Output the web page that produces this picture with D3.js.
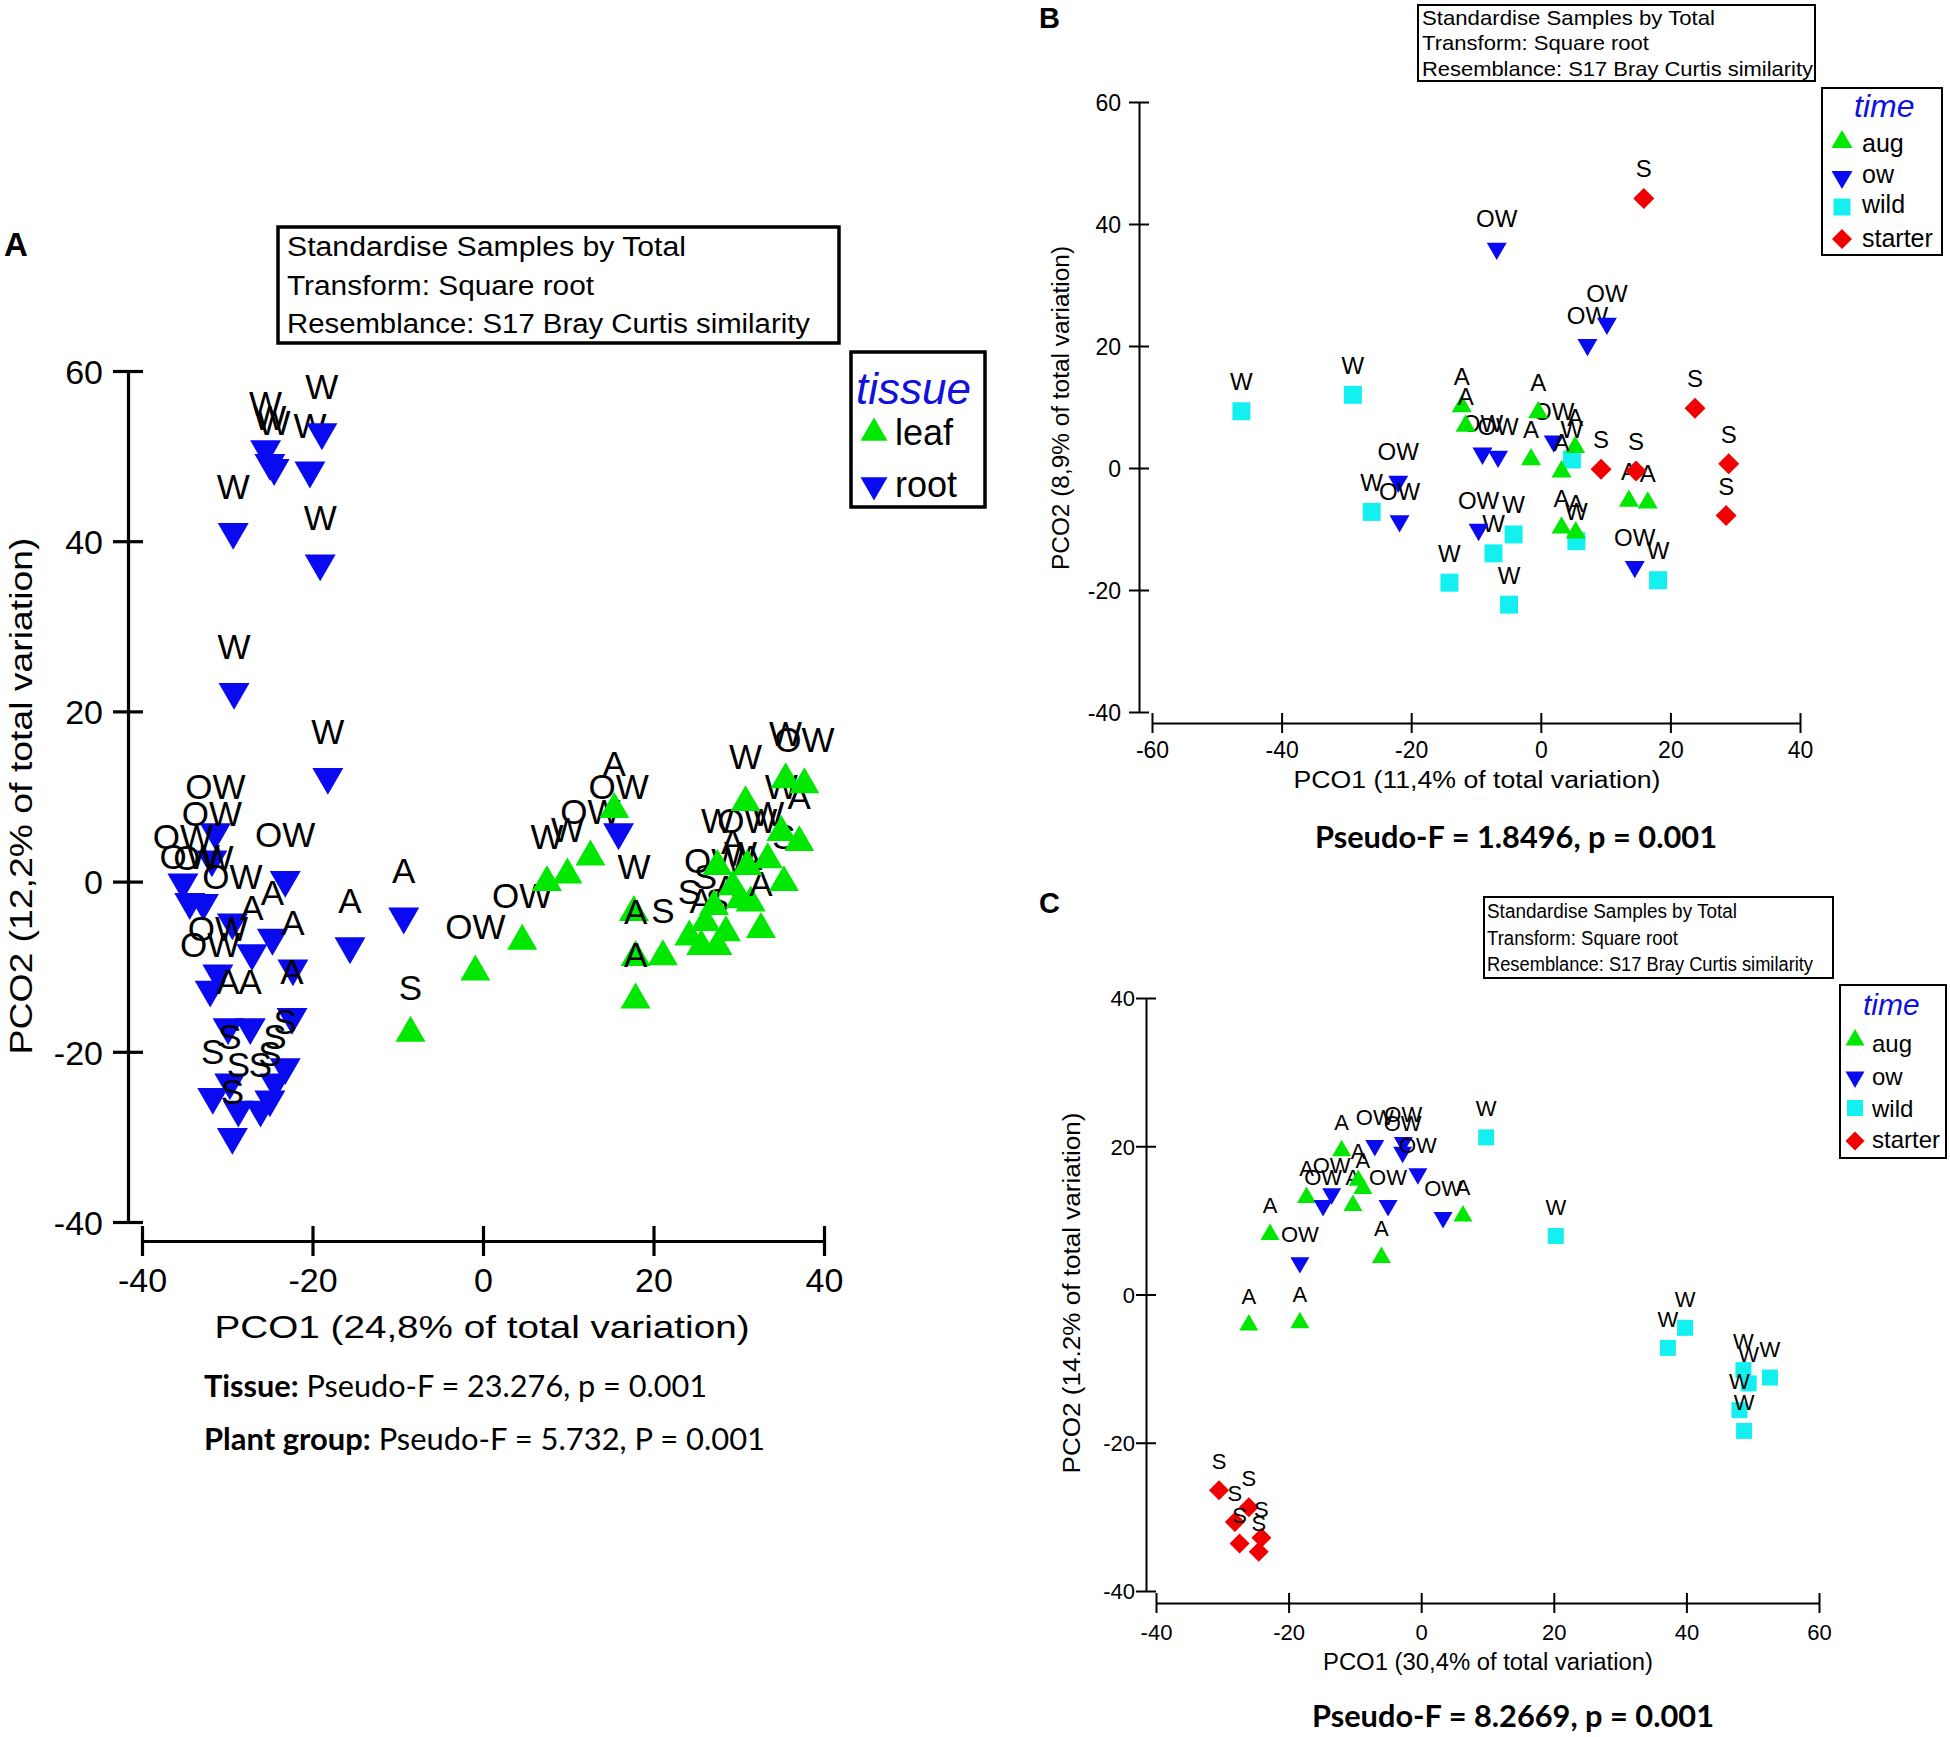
<!DOCTYPE html>
<html lang="en">
<head>
<meta charset="UTF-8">
<title>PCO ordinations</title>
<script src="https://cdn.jsdelivr.net/npm/d3@7"></script>
<style>
  body { margin: 0; background: #fff; }
  text { font-family: "Liberation Sans", Arial, sans-serif; fill: #000; }
  .calib { font-family: Lato, "Open Sans", sans-serif; }
</style>
</head>
<body>
<div id="chart"></div>
<script>
// ---- panel A: tissue (PCO1 vs PCO2), [pco1, pco2, sample label]
var leafA = [
  [-0.9,-10.6,"OW"],[-8.5,-17.8,"S"],[4.6,-7.0,"OW"],[7.5,-0.1,"W"],[9.9,0.8,"W"],
  [12.6,2.9,"OW"],[15.4,8.5,"A"],[17.7,-3.6,"W"],[17.9,-8.9,"A"],[17.9,-13.9,"A"],
  [21.1,-8.8,"S"],[24.2,-6.5,"S"],[25.6,-7.6,"A"],[26.1,-4.8,"S"],[27.5,-7.6,"S"],
  [28.5,-6.0,"A"],[27.1,-2.9,"OW"],[27.5,1.8,"W"],[29.3,-0.6,"A"],[30.2,-2.1,"W"],
  [31.4,-2.5,"A"],[32.6,-5.6,"A"],[31.0,1.8,"OW"],[33.4,2.6,"W"],[35.3,-0.1,"S"],
  [35.0,5.8,"W"],[37.1,4.6,"A"],[30.8,9.3,"W"],[35.5,12.0,"W"],[37.7,11.4,"OW"]
];
var rootA = [
  [-29.3,41.1,"W"],[-19.1,37.4,"W"],[-20.3,48.3,"W"],[-18.9,52.8,"W"],[-25.5,50.8,"W"],
  [-25.0,49.2,"W"],[-24.5,48.6,"W"],[-29.2,22.3,"W"],[-18.2,12.3,"W"],[-31.4,5.8,"OW"],
  [-31.8,2.6,"OW"],[-35.2,-0.1,"OW"],[-34.4,-2.4,"OW"],[-32.8,-2.5,"OW"],[-23.2,0.2,"OW"],
  [-29.4,-4.8,"OW"],[-24.7,-6.6,"A"],[-27.1,-8.4,"A"],[-22.3,-10.2,"A"],[-31.1,-10.8,"OW"],
  [-32.0,-12.7,"OW"],[-22.4,-15.9,"A"],[-29.9,-17.1,"A"],[-27.3,-17.1,"A"],[-23.2,-21.8,"S"],
  [-29.7,-23.6,"S"],[-31.7,-25.3,"S"],[-24.4,-23.6,"S"],[-25.0,-25.6,"S"],[-26.1,-26.8,"S"],
  [-28.7,-26.8,"S"],[-29.4,-30.0,"S"],[-9.3,-4.1,"A"],[-15.6,-7.6,"A"],[15.9,5.8,"OW"]
];
var xTicksA = [-40,-20,0,20,40];
var yTicksA = [-40,-20,0,20,40,60];

// ---- panel B: leaf, time
var augB = [
  [-12.2,10.1,"A"],[-11.6,6.9,"A"],[-0.4,9.1,"A"],[-1.5,1.4,"A"],[5.3,3.4,"A"],
  [3.2,-0.6,"A"],[13.6,-5.4,"A"],[16.5,-5.7,"A"],[3.2,-9.8,"A"],[5.4,-10.6,"A"]
];
var owB = [
  [-6.8,36.0,"OW"],[7.2,20.2,"OW"],[10.2,23.7,"OW"],[-9.0,2.4,"OW"],[-6.6,1.9,"OW"],
  [2.0,4.4,"OW"],[-22.0,-2.2,"OW"],[-21.8,-8.7,"OW"],[-9.6,-10.1,"OW"],[14.5,-16.2,"OW"]
];
var wildB = [
  [-46.2,9.3,"W"],[-29.0,12.0,"W"],[4.8,1.4,"W"],[-26.1,-7.2,"W"],[-4.2,-10.9,"W"],
  [-7.3,-14.0,"W"],[5.5,-12.0,"W"],[-14.1,-18.8,"W"],[-4.9,-22.4,"W"],[18.1,-18.4,"W"]
];
var starterB = [
  [15.9,44.2,"S"],[23.8,9.8,"S"],[9.3,-0.2,"S"],[14.7,-0.5,"S"],[29.0,0.7,"S"],[28.6,-7.8,"S"]
];
var xTicksB = [-60,-40,-20,0,20,40];
var yTicksB = [-40,-20,0,20,40,60];

// ---- panel C: root, time
var augC = [
  [-22.8,8.1,"A"],[-17.3,13.1,"A"],[-12.0,19.4,"A"],[-10.3,12.0,"A"],[-9.5,15.4,"A"],
  [-8.8,14.3,"A"],[-6.0,5.0,"A"],[6.3,10.6,"A"],[-26.0,-4.1,"A"],[-18.3,-3.8,"A"]
];
var owC = [
  [-18.3,4.3,"OW"],[-14.8,12.0,"OW"],[-13.5,13.6,"OW"],[-7.0,20.1,"OW"],[-5.0,12.0,"OW"],
  [-2.7,20.5,"OW"],[-2.8,19.2,"OW"],[-0.5,16.3,"OW"],[3.3,10.4,"OW"]
];
var wildC = [
  [9.8,21.2,"W"],[20.3,7.9,"W"],[39.8,-4.5,"W"],[37.2,-7.2,"W"],[48.6,-10.2,"W"],
  [49.4,-12.0,"W"],[52.6,-11.2,"W"],[48.0,-15.6,"W"],[48.7,-18.4,"W"]
];
var starterC = [
  [-30.5,-26.4,"S"],[-26.0,-28.7,"S"],[-28.1,-30.7,"S"],[-27.4,-33.6,"S"],[-24.1,-32.8,"S"],[-24.5,-34.7,"S"]
];
var xTicksC = [-40,-20,0,20,40,60];
var yTicksC = [-40,-20,0,20,40];

var infoLines = ["Standardise Samples by Total", "Transform: Square root", "Resemblance: S17 Bray Curtis similarity"];
var timeLegend = ["aug", "ow", "wild", "starter"];

var GREEN = "#00e800", BLUE = "#0a0af0", CYAN = "#14f0f0", RED = "#f00000";

var svg = d3.select("#chart").append("svg")
    .attr("width", 1950)
    .attr("height", 1737);

function shapePath(shape, s) {
    if (shape == "up" || shape == "down") return d3.symbol(d3.symbolTriangle, 0.433 * s * s)();
    if (shape == "square") return d3.symbol(d3.symbolSquare, s * s)();
    return d3.symbol(d3.symbolSquare, s * s / 2)();   // diamond, s = diagonal
}
function shapeRot(shape) {
    if (shape == "down") return "rotate(180)";
    if (shape == "diamond") return "rotate(45)";
    return null;
}

function drawPanel(o) {
    var x = d3.scaleLinear().domain(o.xDomain).range(o.xRange);
    var y = d3.scaleLinear().domain(o.yDomain).range(o.yRange);
    var g = svg.append("g");

    var gx = g.append("g")
        .attr("transform", "translate(0," + o.xAxisAt + ")")
        .call(d3.axisBottom(x).tickValues(o.xTicks).tickSizeOuter(0).tickFormat(function(d){ return String(d); }));
    gx.attr("font-size", o.tickFont).attr("font-family", null);
    gx.select(".domain").attr("stroke-width", o.sw);
    gx.selectAll(".tick line").attr("y1", -o.tickLen).attr("y2", o.tickLen).attr("stroke-width", o.sw);
    gx.selectAll(".tick text").attr("y", o.xLabelOff).attr("dy", null);

    var gy = g.append("g")
        .attr("transform", "translate(" + o.yAxisAt + ",0)")
        .call(d3.axisLeft(y).tickValues(o.yTicks).tickSizeOuter(0).tickFormat(function(d){ return String(d); }));
    gy.attr("font-size", o.tickFont).attr("font-family", null);
    gy.select(".domain").attr("stroke-width", o.sw);
    gy.selectAll(".tick line").attr("x1", -o.tickLen).attr("x2", o.tickLen).attr("stroke-width", o.sw);
    gy.selectAll(".tick text").attr("x", -o.yLabelOff).attr("dy", "0.36em");

    // axis titles
    g.append("text")
        .attr("x", o.xTitle[0]).attr("y", o.xTitle[1])
        .attr("text-anchor", "middle").attr("font-size", o.titleFont)
        .attr("textLength", o.xTitle[2]).attr("lengthAdjust", "spacingAndGlyphs")
        .text(o.xTitleText);
    g.append("text")
        .attr("transform", "translate(" + o.yTitle[0] + "," + o.yTitle[1] + ") rotate(-90)")
        .attr("text-anchor", "middle").attr("font-size", o.titleFont)
        .attr("textLength", o.yTitle[2]).attr("lengthAdjust", "spacingAndGlyphs")
        .text(o.yTitleText);

    // sample groups, marker then label for every point
    o.groups.forEach(function(grp) {
        var pts = g.append("g").selectAll("g").data(grp.data).join("g")
            .attr("transform", function(d){ return "translate(" + x(d[0]) + "," + y(d[1]) + ")"; });
        pts.append("path")
            .attr("d", shapePath(grp.shape, grp.size))
            .attr("transform", shapeRot(grp.shape))
            .attr("fill", grp.color);
        pts.append("text")
            .attr("y", -o.labelOff)
            .attr("text-anchor", "middle")
            .attr("font-size", o.labelFont)
            .text(function(d){ return d[2]; });
    });
}

function infoBox(b) {
    svg.append("rect")
        .attr("x", b.x).attr("y", b.y).attr("width", b.w).attr("height", b.h)
        .attr("fill", "#fff").attr("stroke", "#000").attr("stroke-width", b.sw);
    infoLines.forEach(function(t, i) {
        svg.append("text")
            .attr("x", b.tx).attr("y", b.base[i])
            .attr("font-size", b.font)
            .attr("textLength", b.len[i]).attr("lengthAdjust", "spacingAndGlyphs")
            .text(t);
    });
}

function legend(l) {
    svg.append("rect")
        .attr("x", l.x).attr("y", l.y).attr("width", l.w).attr("height", l.h)
        .attr("fill", "#fff").attr("stroke", "#000").attr("stroke-width", l.sw);
    svg.append("text")
        .attr("x", l.titleX).attr("y", l.titleY)
        .attr("font-size", l.titleFont).attr("font-style", "italic")
        .style("fill", "#1010e0")
        .text(l.title);
    l.items.forEach(function(it, i) {
        svg.append("path")
            .attr("d", shapePath(it.shape, it.size))
            .attr("transform", "translate(" + l.mx + "," + l.my[i] + ")" + (shapeRot(it.shape) ? " " + shapeRot(it.shape) : ""))
            .attr("fill", it.color);
        svg.append("text")
            .attr("x", l.tx).attr("y", l.ty[i])
            .attr("font-size", l.font)
            .text(it.name);
    });
}

// ---------- panel A
drawPanel({
    xDomain: [-40, 40], xRange: [142, 824], xAxisAt: 1241, xTicks: xTicksA,
    yDomain: [-40, 60], yRange: [1222, 371], yAxisAt: 128, yTicks: yTicksA,
    sw: 3.2, tickLen: 15, tickFont: 34, xLabelOff: 51, yLabelOff: 25,
    titleFont: 32,
    xTitleText: "PCO1 (24,8% of total variation)", xTitle: [482, 1338, 535],
    yTitleText: "PCO2 (12,2% of total variation)", yTitle: [32, 796, 517],
    labelFont: 35, labelOff: 33,
    groups: [
        {data: leafA, shape: "up", color: GREEN, size: 30},
        {data: rootA, shape: "down", color: BLUE, size: 31}
    ]
});
infoBox({x: 278, y: 227, w: 561, h: 116, sw: 3.5, tx: 287, font: 27,
         base: [256, 295, 333], len: [399, 307, 523]});
legend({x: 851, y: 352, w: 134, h: 155, sw: 3.5,
        title: "tissue", titleX: 856, titleY: 404, titleFont: 44,
        mx: 874, my: [433, 485], tx: 895, ty: [445, 497], font: 36,
        items: [
            {name: "leaf", shape: "up", color: GREEN, size: 27},
            {name: "root", shape: "down", color: BLUE, size: 27}
        ]});
svg.append("text").attr("x", 4).attr("y", 256).attr("font-size", 33).attr("font-weight", "bold").text("A");

var statA1 = svg.append("text").attr("class", "calib").attr("x", 204).attr("y", 1397).attr("font-size", 31)
    .attr("textLength", 503).attr("lengthAdjust", "spacingAndGlyphs");
statA1.append("tspan").attr("font-weight", "bold").text("Tissue:");
statA1.append("tspan").text(" Pseudo-F = 23.276, p = 0.001");
var statA2 = svg.append("text").attr("class", "calib").attr("x", 204).attr("y", 1450).attr("font-size", 31)
    .attr("textLength", 561).attr("lengthAdjust", "spacingAndGlyphs");
statA2.append("tspan").attr("font-weight", "bold").text("Plant group:");
statA2.append("tspan").text(" Pseudo-F = 5.732, P = 0.001");

// ---------- panel B
drawPanel({
    xDomain: [-60, 40], xRange: [1152, 1800], xAxisAt: 723, xTicks: xTicksB,
    yDomain: [-40, 60], yRange: [712, 102], yAxisAt: 1139, yTicks: yTicksB,
    sw: 2, tickLen: 10, tickFont: 23, xLabelOff: 35, yLabelOff: 18,
    titleFont: 23,
    xTitleText: "PCO1 (11,4% of total variation)", xTitle: [1477, 788, 367],
    yTitleText: "PCO2 (8,9% of total variation)", yTitle: [1069, 408, 324],
    labelFont: 24, labelOff: 21,
    groups: [
        {data: wildB, shape: "square", color: CYAN, size: 18},
        {data: owB, shape: "down", color: BLUE, size: 20},
        {data: augB, shape: "up", color: GREEN, size: 20},
        {data: starterB, shape: "diamond", color: RED, size: 21}
    ]
});
infoBox({x: 1418, y: 5, w: 397, h: 76, sw: 2, tx: 1422, font: 21,
         base: [25, 50, 76], len: [293, 227, 391]});
legend({x: 1822, y: 88, w: 120, h: 167, sw: 2,
        title: "time", titleX: 1854, titleY: 117, titleFont: 32,
        mx: 1842, my: [142, 177, 207, 239], tx: 1862, ty: [152, 183, 213, 247], font: 25,
        items: [
            {name: timeLegend[0], shape: "up", color: GREEN, size: 21},
            {name: timeLegend[1], shape: "down", color: BLUE, size: 21},
            {name: timeLegend[2], shape: "square", color: CYAN, size: 17},
            {name: timeLegend[3], shape: "diamond", color: RED, size: 20}
        ]});
svg.append("text").attr("x", 1039).attr("y", 28).attr("font-size", 29).attr("font-weight", "bold").text("B");
svg.append("text").attr("class", "calib").attr("x", 1315).attr("y", 848).attr("font-size", 30)
    .attr("font-weight", "bold").attr("textLength", 402).attr("lengthAdjust", "spacingAndGlyphs")
    .text("Pseudo-F = 1.8496, p = 0.001");

// ---------- panel C
drawPanel({
    xDomain: [-40, 60], xRange: [1156, 1819], xAxisAt: 1603, xTicks: xTicksC,
    yDomain: [-40, 40], yRange: [1591, 998], yAxisAt: 1146, yTicks: yTicksC,
    sw: 2, tickLen: 10, tickFont: 22, xLabelOff: 37, yLabelOff: 11,
    titleFont: 23,
    xTitleText: "PCO1 (30,4% of total variation)", xTitle: [1488, 1670, 330],
    yTitleText: "PCO2 (14.2% of total variation)", yTitle: [1080, 1293, 361],
    labelFont: 22, labelOff: 21,
    groups: [
        {data: augC, shape: "up", color: GREEN, size: 19},
        {data: owC, shape: "down", color: BLUE, size: 19},
        {data: wildC, shape: "square", color: CYAN, size: 16},
        {data: starterC, shape: "diamond", color: RED, size: 20}
    ]
});
infoBox({x: 1484, y: 897, w: 349, h: 81, sw: 2, tx: 1487, font: 20,
         base: [918, 945, 971], len: [250, 191, 326]});
legend({x: 1840, y: 985, w: 106, h: 173, sw: 2,
        title: "time", titleX: 1863, titleY: 1015, titleFont: 30,
        mx: 1855, my: [1040, 1077, 1108, 1141], tx: 1872, ty: [1052, 1085, 1117, 1148], font: 24,
        items: [
            {name: timeLegend[0], shape: "up", color: GREEN, size: 19},
            {name: timeLegend[1], shape: "down", color: BLUE, size: 19},
            {name: timeLegend[2], shape: "square", color: CYAN, size: 16},
            {name: timeLegend[3], shape: "diamond", color: RED, size: 19}
        ]});
svg.append("text").attr("x", 1039).attr("y", 913).attr("font-size", 29).attr("font-weight", "bold").text("C");
svg.append("text").attr("class", "calib").attr("x", 1312).attr("y", 1727).attr("font-size", 30)
    .attr("font-weight", "bold").attr("textLength", 402).attr("lengthAdjust", "spacingAndGlyphs")
    .text("Pseudo-F = 8.2669, p = 0.001");
</script>
</body>
</html>
